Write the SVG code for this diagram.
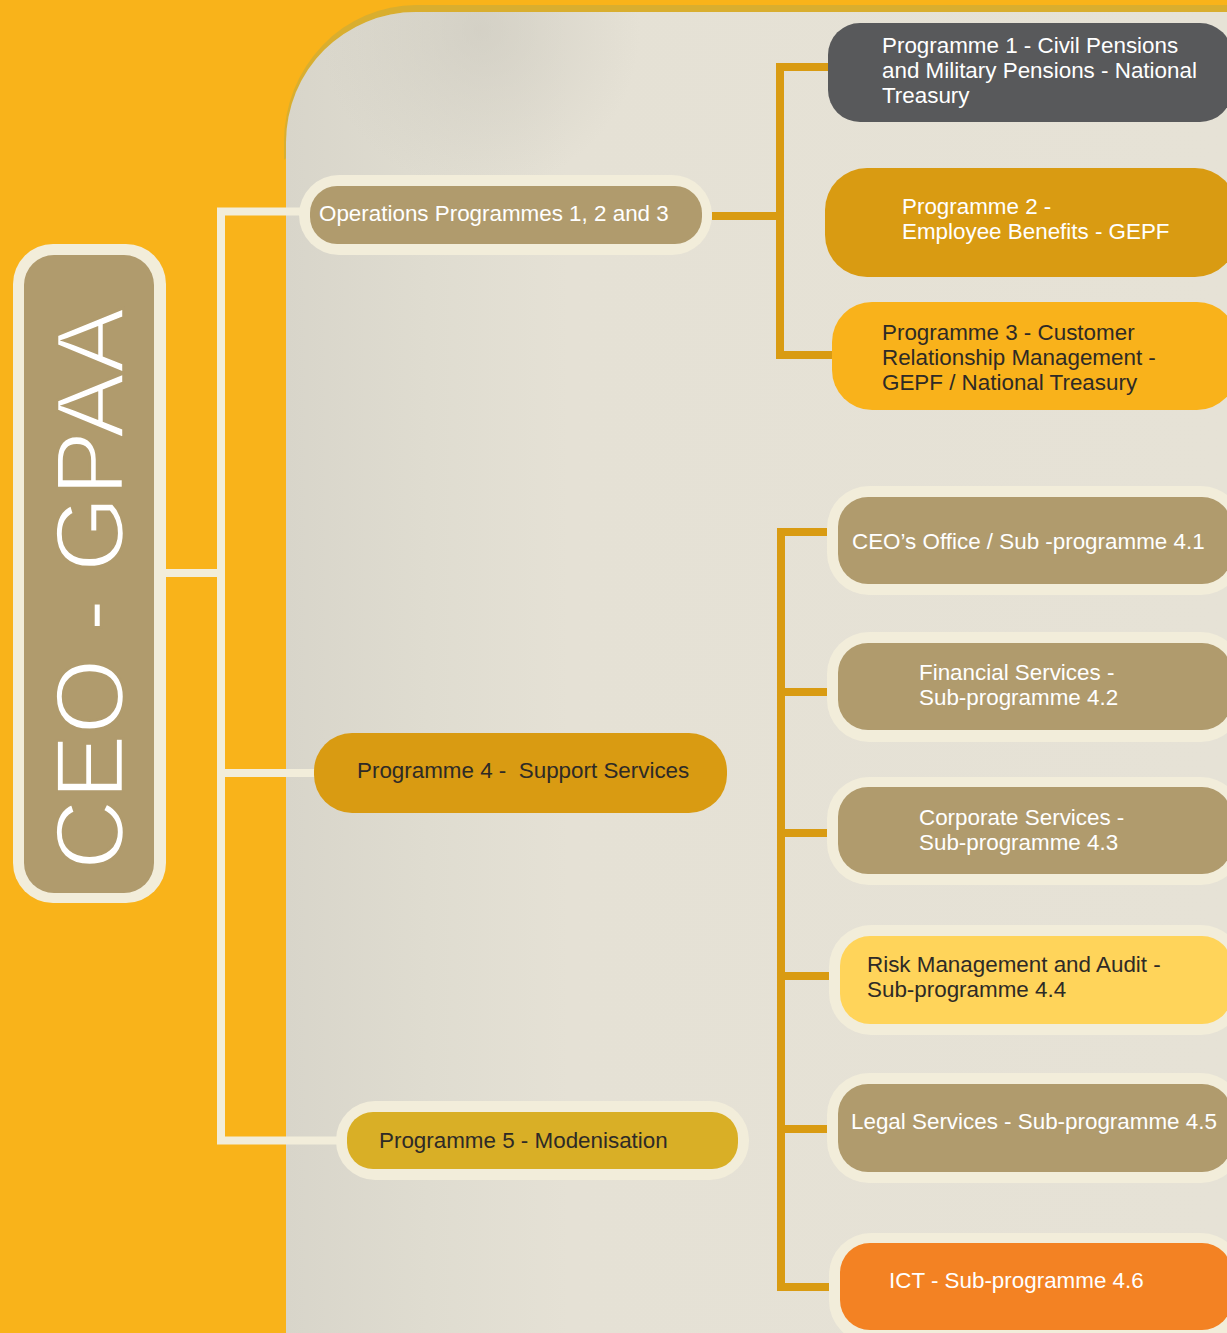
<svg xmlns="http://www.w3.org/2000/svg" width="1227" height="1333" viewBox="0 0 1227 1333">
  <defs>
    <linearGradient id="panelGrad" x1="0" y1="0" x2="1" y2="0" gradientUnits="objectBoundingBox">
      <stop offset="0" stop-color="#D8D5CA"/>
      <stop offset="0.15" stop-color="#DFDCD0"/>
      <stop offset="0.3" stop-color="#E5E1D5"/>
      <stop offset="1" stop-color="#E6E2D6"/>
    </linearGradient>
    <radialGradient id="shade" cx="480" cy="30" r="160" gradientUnits="userSpaceOnUse">
      <stop offset="0" stop-color="#C9C6BC" stop-opacity="0.55"/>
      <stop offset="1" stop-color="#C9C6BC" stop-opacity="0"/>
    </radialGradient>
    <style>
      .cream { fill: #F2EDDA; }
      .tan { fill: #B09B6D; }
      .lbl { font-family: "Liberation Sans", Arial, sans-serif; font-size: 22.4px; }
      .w { fill: #FFFFFF; }
      .d { fill: #2E2A26; }
      .cl { fill: none; stroke: #F2EDDA; stroke-width: 8; }
      .gl { fill: none; stroke: #D99B12; stroke-width: 8; }
    </style>
  </defs>

  <!-- background -->
  <rect x="0" y="0" width="1227" height="1333" fill="#F9B31A"/>
  <path d="M284,160 V142 A132 137 0 0 1 416,5 H1227 V40 H416 Z" fill="#D9AE2F"/>
  <path d="M286,1333 V142 A130 130 0 0 1 416,12 H1227 V1333 Z" fill="url(#panelGrad)"/>
  <path d="M286,1333 V142 A130 130 0 0 1 416,12 H1227 V1333 Z" fill="url(#shade)"/>

  <!-- connectors -->
  <g id="connectors">
    <path class="cl" d="M300,211.5 H221 V1140.5 H337"/>
    <path class="cl" d="M166,573 H221"/>
    <path class="cl" d="M221,773 H320"/>
    <path class="gl" d="M712,216 H780"/>
    <path class="gl" d="M830,67 H780 V355 H834"/>
    <path class="gl" d="M829,532 H781 V1287 H840"/>
    <path class="gl" d="M781,692 H829"/>
    <path class="gl" d="M781,833 H829"/>
    <path class="gl" d="M781,976 H831"/>
    <path class="gl" d="M781,1129 H829"/>
  </g>

  <!-- CEO -->
  <g id="ceo">
    <rect class="cream" x="13" y="244" width="153" height="659" rx="40"/>
    <rect class="tan" x="24" y="255" width="130" height="638" rx="30"/>
    <text transform="translate(123,589) rotate(-90)" text-anchor="middle" font-family="Liberation Sans, Arial, sans-serif" font-size="97" textLength="562" lengthAdjust="spacingAndGlyphs" fill="#FFFFFF" stroke="#B09B6D" stroke-width="2.5">CEO - GPAA</text>
  </g>

  <!-- Operations -->
  <g id="ops">
    <rect class="cream" x="299" y="175" width="413" height="80" rx="40"/>
    <rect class="tan" x="310" y="186" width="392" height="58" rx="27"/>
    <text class="lbl w" x="319" y="221">Operations Programmes 1, 2 and 3</text>
  </g>

  <!-- Programme 1 -->
  <g id="p1">
    <rect x="828" y="23" width="404" height="99" rx="32" fill="#58595B"/>
    <text class="lbl w" x="882" y="53">Programme 1 - Civil Pensions</text>
    <text class="lbl w" x="882" y="78">and Military Pensions - National</text>
    <text class="lbl w" x="882" y="103">Treasury</text>
  </g>

  <!-- Programme 2 -->
  <g id="p2">
    <rect x="825" y="168" width="412" height="109" rx="42" fill="#D99B12"/>
    <text class="lbl w" x="902" y="214">Programme 2 -</text>
    <text class="lbl w" x="902" y="239">Employee Benefits - GEPF</text>
  </g>

  <!-- Programme 3 -->
  <g id="p3">
    <rect x="832" y="302" width="405" height="108" rx="40" fill="#F9B21B"/>
    <text class="lbl d" x="882" y="340">Programme 3 - Customer</text>
    <text class="lbl d" x="882" y="365">Relationship Management -</text>
    <text class="lbl d" x="882" y="390">GEPF / National Treasury</text>
  </g>

  <!-- Programme 4 -->
  <g id="p4">
    <rect x="314" y="733" width="413" height="80" rx="38" fill="#D99B12"/>
    <text class="lbl d" x="357" y="778" xml:space="preserve">Programme 4 -  Support Services</text>
  </g>

  <!-- Programme 5 -->
  <g id="p5">
    <rect class="cream" x="336" y="1101" width="413" height="79" rx="39"/>
    <rect x="347" y="1112" width="391" height="57" rx="26" fill="#D9AF26"/>
    <text class="lbl d" x="379" y="1148">Programme 5 - Modenisation</text>
  </g>

  <!-- Sub-programme 4.1 -->
  <g id="sp41">
    <rect class="cream" x="827" y="486" width="416" height="109" rx="42"/>
    <rect class="tan" x="838" y="497" width="394" height="87" rx="30"/>
    <text class="lbl w" x="852" y="549">CEO’s Office / Sub -programme 4.1</text>
  </g>

  <!-- Sub-programme 4.2 -->
  <g id="sp42">
    <rect class="cream" x="827" y="632" width="416" height="110" rx="42"/>
    <rect class="tan" x="838" y="643" width="394" height="87" rx="30"/>
    <text class="lbl w" x="919" y="680">Financial Services -</text>
    <text class="lbl w" x="919" y="705">Sub-programme 4.2</text>
  </g>

  <!-- Sub-programme 4.3 -->
  <g id="sp43">
    <rect class="cream" x="827" y="777" width="416" height="108" rx="42"/>
    <rect class="tan" x="838" y="787" width="394" height="87" rx="30"/>
    <text class="lbl w" x="919" y="825">Corporate Services -</text>
    <text class="lbl w" x="919" y="850">Sub-programme 4.3</text>
  </g>

  <!-- Sub-programme 4.4 -->
  <g id="sp44">
    <rect class="cream" x="829" y="925" width="414" height="110" rx="42"/>
    <rect x="840" y="936" width="392" height="88" rx="30" fill="#FFD45A"/>
    <text class="lbl d" x="867" y="972">Risk Management and Audit -</text>
    <text class="lbl d" x="867" y="997">Sub-programme 4.4</text>
  </g>

  <!-- Sub-programme 4.5 -->
  <g id="sp45">
    <rect class="cream" x="827" y="1073" width="416" height="110" rx="42"/>
    <rect class="tan" x="838" y="1084" width="394" height="88" rx="30"/>
    <text class="lbl w" x="851" y="1129">Legal Services - Sub-programme 4.5</text>
  </g>

  <!-- Sub-programme 4.6 -->
  <g id="sp46">
    <rect class="cream" x="829" y="1233" width="414" height="110" rx="42"/>
    <rect x="840" y="1243" width="392" height="87" rx="30" fill="#F38223"/>
    <text class="lbl w" x="889" y="1288">ICT - Sub-programme 4.6</text>
  </g>
</svg>
